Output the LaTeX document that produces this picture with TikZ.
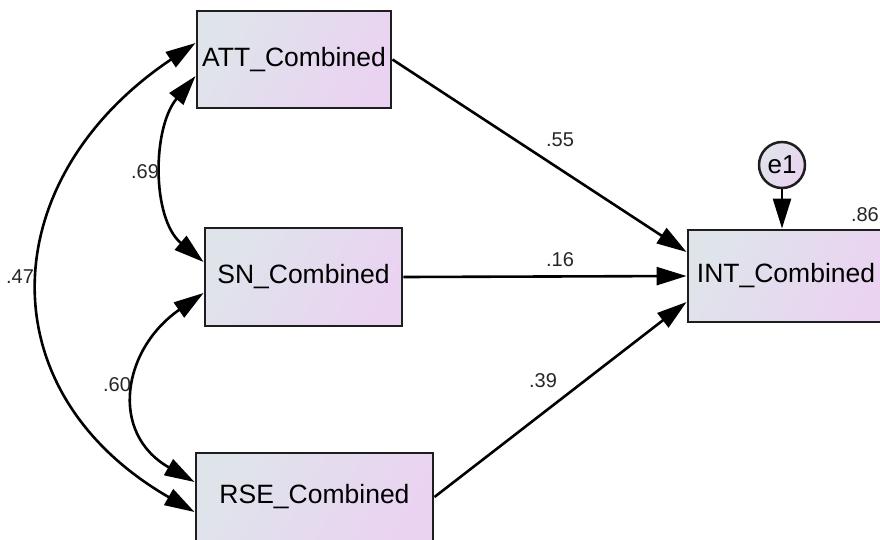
\documentclass[tikz,border=0pt]{standalone}
\usepackage{fontspec}
\setmainfont{Liberation Sans}
\usetikzlibrary{arrows.meta}
\definecolor{gleft}{HTML}{DFE4EB}
\definecolor{gright}{HTML}{EAD3F1}
\definecolor{edgec}{HTML}{1E1E1E}
\tikzset{
  var/.style={draw=edgec, line width=2.9pt, left color=gleft, right color=gright, shading angle=60,
    inner sep=0pt, font=\fontsize{26.5}{29}\selectfont},
  errc/.style={draw=edgec, line width=2.5pt, circle, left color=gleft, right color=gright, shading angle=60,
    inner sep=0pt, font=\fontsize{26}{29}\selectfont},
  coef/.style={font=\fontsize{20}{22}\selectfont, text=black!85},
  path/.style={line width=2.6pt, -{Triangle[length=30pt,width=18pt]}},
  cov/.style={line width=2.6pt, {Triangle[length=30pt,width=18pt]}-{Triangle[length=30pt,width=18pt]}},
}
\begin{document}
\begin{tikzpicture}[x=1pt,y=-1pt]
\useasboundingbox (0,0) rectangle (880,539);
\node[var, minimum width=194pt, minimum height=97pt] (att) at (294,59.5) {ATT\_Combined};
\node[var, minimum width=197pt, minimum height=98pt] (sn) at (303.5,277) {SN\_Combined};
\node[var, minimum width=237pt, minimum height=88pt] (rse) at (314.5,497) {RSE\_Combined};
\node[var, minimum width=196pt, minimum height=92pt] (int) at (786,276) {INT\_Combined};
\node[errc, minimum size=46pt] (e1) at (782,165) {e1};

\draw[path] (att.east) -- ([yshift=24pt]int.west);
\draw[path] (sn.east) -- (int.west);
\draw[path] (rse.east) -- ([yshift=-26pt]int.west);
\draw[path] (e1.south) -- (int.north -| e1.south);

\draw[cov] ([yshift=-16.5pt]att.west) .. controls +(-43.5,52) and +(-52,-43.5) .. ([yshift=15pt]sn.west);
\draw[cov] ([yshift=-16pt]sn.west) .. controls +(-81,56) and +(-86,-49) .. ([yshift=15pt]rse.west);
\draw[cov] ([yshift=16.5pt]att.west) .. controls +(-201,135) and +(-210,-121) .. ([yshift=-15pt]rse.west);

\node[coef] (c55) at (560,140) {.55};
\node[coef] (c16) at (560,260) {.16};
\node[coef] (c39) at (543,381) {.39};
\node[coef] (c69) at (145,172) {.69};
\node[coef] (c60) at (117,385) {.60};
\node[coef] (c47) at (20,277) {.47};
\node[coef, anchor=east, inner sep=0pt] (c86) at (879,215) {.86};
\end{tikzpicture}
\end{document}
